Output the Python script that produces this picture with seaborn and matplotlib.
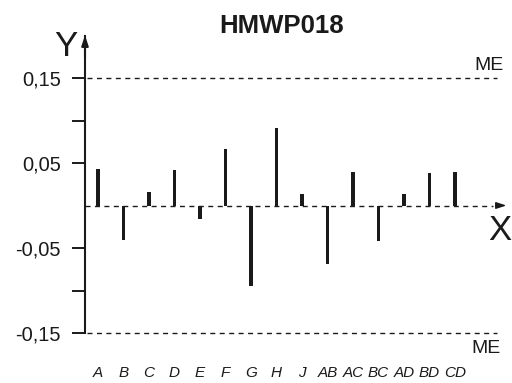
import matplotlib
matplotlib.use("Agg")
import matplotlib.pyplot as plt
import seaborn as sns
import pandas as pd
from matplotlib.ticker import FixedLocator

factors = ["A", "B", "C", "D", "E", "F", "G", "H", "J", "AB", "AC", "BC", "AD", "BD", "CD"]
effects = [0.043, -0.040, 0.016, 0.042, -0.016, 0.066, -0.095, 0.091, 0.014, -0.069, 0.039, -0.042, 0.013, 0.038, 0.039]
me_limit = 0.15
ytick_vals = [0.15, 0.05, -0.05, -0.15]
ytick_labels = ["0,15", "0,05", "-0,05", "-0,15"]
minor_vals = [0.10, -0.10]

sns.set_style("white")
plt.rcParams['font.family'] = ['Liberation Sans', 'DejaVu Sans']

df = pd.DataFrame({"factor": factors, "effect": effects})
ink = "#1a1a1a"
dash = (0, (3.6, 3.2))

fig = plt.figure(figsize=(5.12, 3.83), dpi=100)
ax = fig.add_axes([85/512, 50/383, 427/512, 297.5/383])

sns.barplot(data=df, x="factor", y="effect", color=ink, width=0.12,
            saturation=1, ax=ax, edgecolor="none")

x_left, x_right = -0.51, 16.235
ax.set_xlim(x_left, x_right)
ax.set_ylim(-0.15, 0.20)

for s in ["top", "right", "bottom"]:
    ax.spines[s].set_visible(False)
ax.spines["left"].set_linewidth(1.5)
ax.spines["left"].set_color(ink)

# Y axis arrow
ax.annotate("", xy=(x_left, 0.2035), xytext=(x_left, 0.17),
            arrowprops=dict(arrowstyle="-|>,head_length=0.6,head_width=0.2", color=ink, lw=1.5),
            annotation_clip=False)

# X axis: dashed zero line then solid arrow
ax.plot([x_left, 15.49], [0, 0], color=ink, linestyle=dash, linewidth=1.0, clip_on=False)
ax.annotate("", xy=(16.12, 0), xytext=(15.49, 0),
            arrowprops=dict(arrowstyle="-|>,head_length=0.6,head_width=0.2", color=ink, lw=1.0),
            annotation_clip=False)

# ME lines
for yv in (me_limit, -me_limit):
    ax.plot([-0.43, 15.65], [yv, yv], color=ink, linestyle=dash, linewidth=1.0, clip_on=False)
ax.text(15.92, me_limit + 0.005, "ME", ha="right", va="bottom", fontsize=14, color=ink)
ax.text(15.8, -me_limit - 0.008, "ME", ha="right", va="top", fontsize=14, color=ink)

# ticks
ax.yaxis.set_major_locator(FixedLocator(ytick_vals))
ax.set_yticklabels(ytick_labels, fontsize=14.5, color=ink)
ax.yaxis.set_minor_locator(FixedLocator(minor_vals))
ax.tick_params(axis="y", which="both", left=True, length=9.5, width=1.4, color=ink, pad=8)
ax.tick_params(axis="x", length=0, pad=24)
for lab in ax.get_xticklabels():
    lab.set_fontstyle("italic")
    lab.set_fontsize(11)
    lab.set_color(ink)

ax.set_xlabel("")
ax.set_ylabel("")
ax.grid(False)

fig.text(282/512, 1 - 26/383, "HMWP018", ha="center", va="center", fontsize=18.5, fontweight="bold", color=ink)
fig.text(66/512, 1 - 47/383, "Y", ha="center", va="center", fontsize=25, color=ink)
fig.text(511/512, 1 - 231/383, "X", ha="right", va="center", fontsize=25, color=ink)

fig.savefig("out.png", dpi=100)
